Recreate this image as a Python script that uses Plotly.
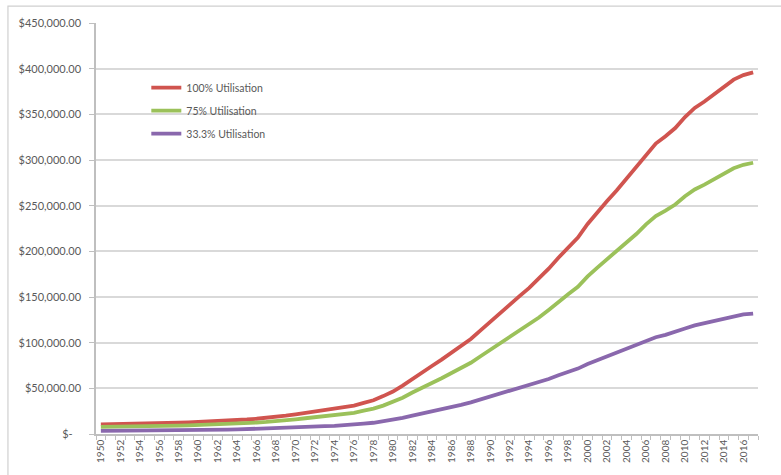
import plotly.graph_objects as go

# Years on the category axis
years = list(range(1950, 2018))

# Cumulative value at 100% utilisation
util_100 = [
    10500, 10600, 10800, 11000, 11200, 11500, 11800, 12000, 12300, 12700,
    13100, 13500, 14000, 14500, 15000, 15900, 16700, 17600, 18600, 20000,
    21500, 23000, 24500, 25800, 27000, 28500, 31000, 34000, 37000, 41500,
    46500, 53000, 60500, 67000, 74500, 81500, 89000, 95500, 104000, 113500,
    123000, 133000, 142500, 151000, 160000, 170000, 181000, 193000, 204000, 215000,
    230000, 243000, 255000, 267000, 280000, 292000, 306000, 318000, 326000, 335000,
    347000, 357000, 364000, 372000, 381000, 388000, 393000, 396000,
]

# Cumulative value at 75% utilisation
util_75 = [
    7900, 7950, 8100, 8250, 8400, 8600, 8850, 9000, 9200, 9500,
    9800, 10100, 10500, 10900, 11250, 11900, 12500, 13200, 13950, 15000,
    16100, 17250, 18400, 19350, 20250, 21400, 23250, 25500, 27750, 31100,
    34900, 39750, 45400, 50250, 55900, 61100, 66750, 71600, 78000, 85100,
    92250, 99750, 106900, 113250, 120000, 127500, 135750, 144750, 153000, 161250,
    172500, 182250, 191250, 200250, 210000, 219000, 229500, 238500, 244500, 251250,
    260250, 267750, 273000, 279000, 285750, 291000, 294750, 297000,
]

# Cumulative value at 33.3% utilisation
util_33 = [
    3500, 3530, 3600, 3660, 3730, 3830, 3930, 4000, 4100, 4230,
    4360, 4500, 4660, 4830, 5000, 5300, 5560, 5860, 6190, 6660,
    7160, 7660, 8160, 8590, 8990, 9490, 10320, 11320, 12320, 13820,
    15480, 17650, 20150, 22310, 24810, 27140, 29640, 31800, 34630, 37800,
    40960, 44290, 47450, 50280, 53280, 56610, 60270, 64270, 67930, 71600,
    76590, 80920, 84920, 88910, 93240, 97240, 101900, 105900, 108560, 111560,
    115550, 118880, 121210, 123880, 126870, 129200, 130870, 131870,
]

series_names = ["100% Utilisation", "75% Utilisation", "33.3% Utilisation"]
series_colors = ["#D0544F", "#9BC15A", "#8A68AD"]

# Y axis ticks in accounting style
y_tickvals = list(range(0, 450001, 50000))
y_ticktext = ["$-\u00a0\u00a0\u00a0"] + [f"${v:,.2f}" for v in y_tickvals[1:]]

# X axis labels every second year
x_tickvals = years[::2]
x_ticktext = [str(y) for y in x_tickvals]

fig = go.Figure()
for i, (name, vals, color) in enumerate(zip(series_names, [util_100, util_75, util_33], series_colors)):
    fig.add_trace(go.Scatter(
        x=years, y=vals, mode="lines", name=name,
        legendgroup=f"g{i}",
        line=dict(color=color, width=3.8),
    ))

text_color = "#595959"
fig.update_layout(
    width=781, height=475,
    margin=dict(l=96, r=23, t=23, b=37),
    paper_bgcolor="white", plot_bgcolor="white",
    font=dict(family="Lato, 'Open Sans', sans-serif", size=11, color=text_color),
    showlegend=True,
    legend=dict(
        x=0.076, y=0.878, xanchor="left", yanchor="top",
        bgcolor="rgba(0,0,0,0)", font=dict(size=10.5, color=text_color),
        itemwidth=30, tracegroupgap=4,
    ),
    xaxis=dict(
        range=[1949.5, 2017.5],
        tickmode="array", tickvals=x_tickvals, ticktext=x_ticktext,
        tickangle=-90, tickfont=dict(size=10, color=text_color),
        ticks="", showgrid=False,
        showline=True, linecolor="#BFBFBF", linewidth=1.5,
        minor=dict(tick0=1949.5, dtick=1, ticks="outside", ticklen=4,
                   tickcolor="#BFBFBF", tickwidth=1, showgrid=False),
        zeroline=False,
    ),
    yaxis=dict(
        range=[0, 450000],
        tickmode="array", tickvals=y_tickvals, ticktext=y_ticktext,
        tickfont=dict(size=11, color=text_color),
        ticks="outside", ticklen=5, tickcolor="#BFBFBF",
        ticklabelstandoff=6,
        showgrid=True, gridcolor="#D9D9D9", gridwidth=1.5,
        showline=True, linecolor="#BFBFBF", linewidth=1.5,
        zeroline=False,
    ),
    shapes=[dict(
        type="rect", xref="paper", yref="paper",
        x0=-0.133, x1=1.05, y0=-0.11, y1=1.041,
        line=dict(color="#D0D0D0", width=1.2), fillcolor="rgba(0,0,0,0)",
        layer="below",
    )],
)

fig.write_html("out.html")
